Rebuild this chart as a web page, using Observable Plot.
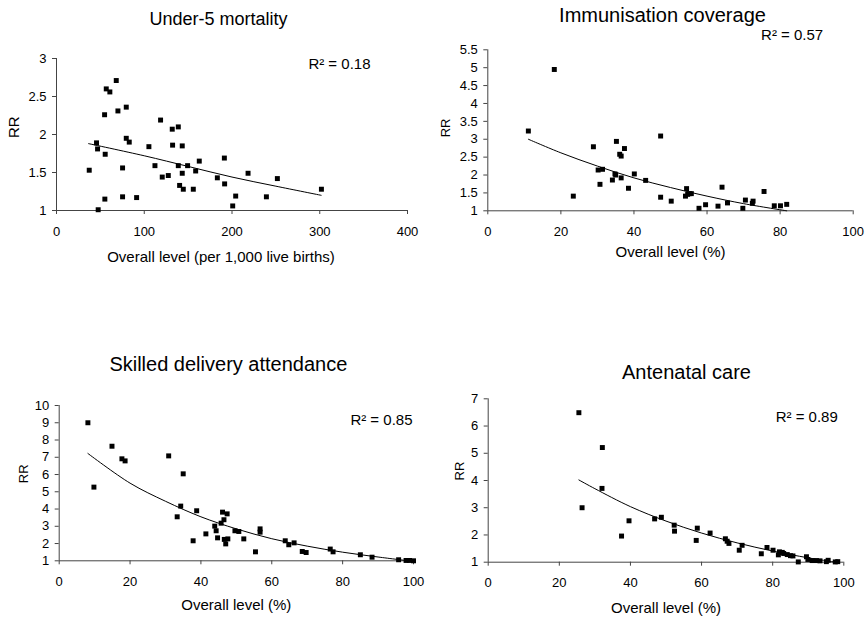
<!DOCTYPE html>
<html><head><meta charset="utf-8">
<script src="https://cdn.jsdelivr.net/npm/d3@7"></script>
<script src="https://cdn.jsdelivr.net/npm/@observablehq/plot@0.6"></script>
<style>
body{margin:0;background:#fff;}
#root{position:relative;width:865px;height:619px;overflow:hidden;background:#fff;}
#root svg{position:absolute;}
</style></head><body><div id="root"></div>
<script>
// ---- Under-5 mortality ----
const u5X = [37.3,45.6,46.8,47.5,54.8,55.1,55.5,56.7,60.8,68.1,70.0,75.3,75.3,79.5,79.5,82.9,91.3,105.3,112.2,118.6,120.5,127.4,131.9,132.3,138.8,138.8,140.3,143.3,143.3,144.5,149.4,155.9,158.6,162.7,183.3,191.3,191.6,200.8,204.2,218.3,239.2,251.7,301.9];
const u5Y = [1.53,1.89,1.81,1.01,2.26,1.15,1.74,2.60,2.56,2.71,2.31,1.56,1.18,2.36,1.95,1.90,1.17,1.84,1.59,2.19,1.44,1.46,2.07,1.86,2.10,1.59,1.33,1.85,1.49,1.28,1.59,1.28,1.52,1.65,1.43,1.69,1.35,1.06,1.19,1.49,1.18,1.42,1.28];
const u5TrendX = [36.5,100,150,200,250,301.6];
const u5TrendY = [1.88,1.72,1.58,1.44,1.32,1.20];
const u5XTicks = [0,100,200,300,400];
const u5YTicks = [1,1.5,2,2.5,3];

// ---- Immunisation coverage ----
const immX = [11.1,18.2,23.4,28.9,30.2,30.7,31.4,34.1,34.8,35.2,35.0,36.1,36.5,36.5,37.4,38.5,40.1,43.2,47.3,47.3,50.2,54.1,54.4,54.7,55.2,55.7,57.8,59.6,63.0,64.1,65.6,69.8,70.5,72.4,72.6,75.6,78.4,80.1,81.8];
const immY = [3.23,4.95,1.41,2.79,2.14,1.74,2.16,1.86,2.03,2.94,2.00,2.58,2.53,1.92,2.74,1.63,2.03,1.85,3.09,1.38,1.27,1.41,1.62,1.46,1.48,1.48,1.07,1.17,1.13,1.66,1.22,1.07,1.30,1.21,1.27,1.54,1.14,1.14,1.18];
const immTrendX = [11.1,20,30,40,50,60,70,81.8];
const immTrendY = [3.0,2.62,2.25,1.92,1.65,1.41,1.2,1.0];
const pctXTicks = [0,20,40,60,80,100];
const immYTicks = [1,1.5,2,2.5,3,3.5,4,4.5,5,5.5];

// ---- Skilled delivery attendance ----
const sbaX = [8.1,9.8,14.9,17.7,18.6,30.9,33.3,34.3,35.0,37.8,38.8,41.4,43.9,44.3,44.7,45.7,46.1,46.5,46.6,47.0,47.4,47.6,49.6,50.7,52.1,55.4,56.7,56.7,63.8,64.8,66.3,68.6,69.7,76.5,77.3,85.0,88.3,95.8,97.9,98.9,100];
const sbaY = [9.0,5.27,7.64,6.91,6.79,7.08,3.55,4.17,6.04,2.16,3.90,2.56,3.01,2.74,2.33,3.18,3.82,3.38,2.24,1.98,3.72,2.27,2.74,2.70,2.27,1.52,2.85,2.66,2.16,1.93,2.04,1.54,1.48,1.68,1.52,1.35,1.21,1.06,1.02,1.02,1.0];
const sbaTrendX = [8.1,20,30,40,50,60,70,80,90,98.6];
const sbaTrendY = [7.22,5.5,4.45,3.55,2.85,2.28,1.85,1.5,1.22,1.0];
const sbaYTicks = [1,2,3,4,5,6,7,8,9,10];

// ---- Antenatal care ----
const ancX = [25.5,26.4,32.0,32.1,37.5,39.6,46.8,48.7,52.3,52.4,58.5,58.8,62.4,66.7,67.2,67.7,70.6,71.4,76.8,78.4,80.1,81.6,81.9,82.7,83.1,84.1,85.0,85.7,87.2,89.5,89.9,91.1,92.3,93.3,95.1,95.6,97.6,98.3];
const ancY = [6.49,3.0,3.71,5.21,1.96,2.52,2.59,2.65,2.36,2.14,1.80,2.25,2.07,1.86,1.77,1.69,1.44,1.62,1.31,1.54,1.44,1.27,1.38,1.36,1.32,1.28,1.24,1.23,1.01,1.20,1.10,1.06,1.06,1.05,1.02,1.07,1.01,1.02];
const ancTrendX = [25.5,30,40,50,60,70,80,90,97.7];
const ancTrendY = [4.02,3.70,3.04,2.51,2.07,1.71,1.41,1.16,1.0];
const ancYTicks = [1,2,3,4,5,6,7];

const titles = ["Under-5 mortality","Immunisation coverage","Skilled delivery attendance","Antenatal care"];
const r2Labels = ["R² = 0.18","R² = 0.57","R² = 0.85","R² = 0.89"];
const xTitles = ["Overall level (per 1,000 live births)","Overall level (%)","Overall level (%)","Overall level (%)"];
const yTitle = "RR";

const FONT = "'Liberation Sans', Arial, sans-serif";
const AXIS = "#444";
const fmt = d3.format("~g");
const root = document.getElementById("root");

function panel(p) {
  const pts = p.x.map((x, i) => ({x, y: p.y[i]}));
  const trend = p.tx.map((x, i) => ({x, y: p.ty[i]}));
  const svg = Plot.plot({
    width: p.w, height: p.h,
    marginLeft: p.m[0], marginRight: p.m[1], marginTop: p.m[2], marginBottom: p.m[3],
    x: {domain: [p.xt[0], p.xt[p.xt.length - 1]]},
    y: {domain: [p.yt[0], p.yt[p.yt.length - 1]]},
    style: {fontFamily: FONT, fontSize: "13px", color: "black", background: "transparent", overflow: "visible"},
    marks: [
      Plot.ruleY([p.yt[0]], {stroke: AXIS, strokeWidth: 1}),
      Plot.ruleX([p.xt[0]], {stroke: AXIS, strokeWidth: 1}),
      Plot.axisX({ticks: p.xt, tickFormat: fmt, tickSize: 4, tickPadding: 12, label: null, stroke: AXIS, fontSize: 13}),
      Plot.axisY({ticks: p.yt, tickFormat: fmt, tickSize: 4, tickPadding: 6, label: null, stroke: AXIS, fontSize: 13}),
      Plot.line(trend, {x: "x", y: "y", curve: "catmull-rom", stroke: "black", strokeWidth: 1}),
      Plot.dot(pts, {x: "x", y: "y", symbol: "square", r: 2.8, fill: "black", stroke: "none"}),
      Plot.text([p.title], {text: d => d, frameAnchor: "top", dx: p.title_d[0], dy: p.title_d[1], lineAnchor: "middle", fontSize: p.titleSize, fill: "black"}),
      Plot.text([p.r2], {text: d => d, frameAnchor: "top-right", textAnchor: "end", dx: p.r2_d[0], dy: p.r2_d[1], lineAnchor: "middle", fontSize: 15, fill: "black"}),
      Plot.text([yTitle], {text: d => d, frameAnchor: "left", rotate: -90, dx: p.yl_d[0], dy: p.yl_d[1], lineAnchor: "middle", fontSize: p.ylSize, fill: "black"}),
      Plot.text([p.xTitle], {text: d => d, frameAnchor: "bottom", dx: p.xl_d[0], dy: p.xl_d[1], lineAnchor: "middle", fontSize: 15, fill: "black"})
    ]
  });
  svg.style.left = p.left + "px";
  svg.style.top = p.top + "px";
  root.appendChild(svg);
}

panel({left: 0, top: 0, w: 432, h: 300, m: [56, 25, 58, 90], x: u5X, y: u5Y, tx: u5TrendX, ty: u5TrendY, xt: u5XTicks, yt: u5YTicks,
  title: titles[0], titleSize: 18, title_d: [-13.5, -39], r2: r2Labels[0], r2_d: [-37, 6], yl_d: [-42, 3.5], ylSize: 15, xTitle: xTitles[0], xl_d: [-11, 46.7]});
panel({left: 432, top: 0, w: 433, h: 300, m: [55.3, 12.3, 49.3, 89.7], x: immX, y: immY, tx: immTrendX, ty: immTrendY, xt: pctXTicks, yt: immYTicks,
  title: titles[1], titleSize: 20, title_d: [-8, -34.3], r2: r2Labels[1], r2_d: [-30, -15], yl_d: [-42, 7], ylSize: 13, xTitle: xTitles[1], xl_d: [0, 41.4]});
panel({left: 0, top: 310, w: 432, h: 309, m: [58.7, 19, 95, 58.7], x: sbaX, y: sbaY, tx: sbaTrendX, ty: sbaTrendY, xt: pctXTicks, yt: sbaYTicks,
  title: titles[2], titleSize: 20, title_d: [-8, -41], r2: r2Labels[2], r2_d: [-1, 15], yl_d: [-35, 0], ylSize: 13, xTitle: xTitles[2], xl_d: [0, 44.7]});
panel({left: 432, top: 310, w: 433, h: 309, m: [55.7, 21.7, 88.3, 57.3], x: ancX, y: ancY, tx: ancTrendX, ty: ancTrendY, xt: pctXTicks, yt: ancYTicks,
  title: titles[3], titleSize: 20, title_d: [20.5, -26.3], r2: r2Labels[3], r2_d: [-6, 18], yl_d: [-28, 0], ylSize: 13, xTitle: xTitles[3], xl_d: [0, 46.3]});
</script></body></html>
